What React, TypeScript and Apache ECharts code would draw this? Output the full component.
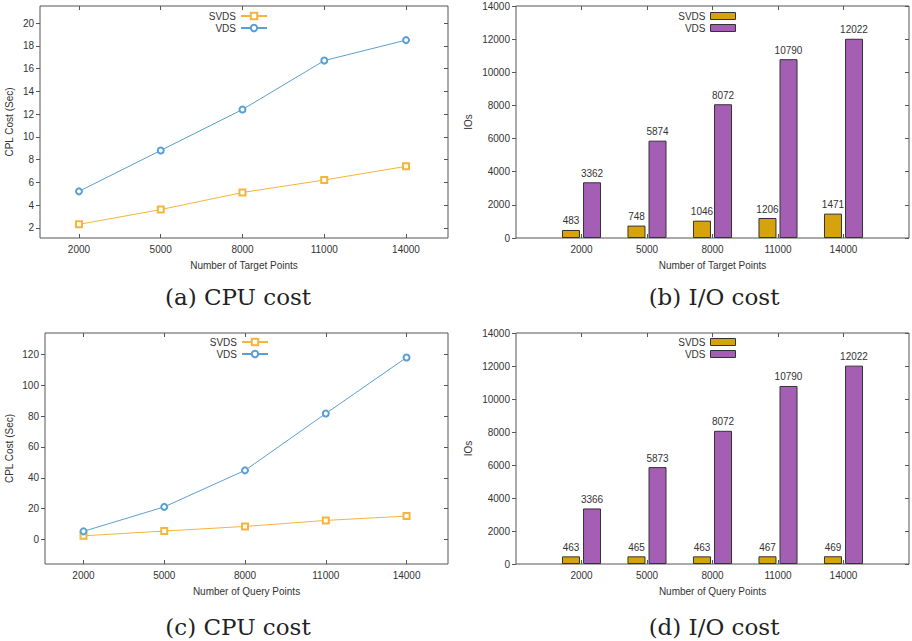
import React, { useEffect, useRef } from "react";
import * as echarts from "echarts";

// ---- data ----
const xPoints = [2000, 5000, 8000, 11000, 14000];
const categories = ["2000", "5000", "8000", "11000", "14000"];
const seriesNames = ["SVDS", "VDS"];

const cpuTargetSVDS = [2.3, 3.6, 5.1, 6.2, 7.4];
const cpuTargetVDS = [5.2, 8.8, 12.4, 16.7, 18.5];
const ioTargetSVDS = [483, 748, 1046, 1206, 1471];
const ioTargetVDS = [3362, 5874, 8072, 10790, 12022];
const cpuQuerySVDS = [2.3, 5.4, 8.4, 12.3, 15.1];
const cpuQueryVDS = [5.2, 21.1, 44.8, 81.7, 118.1];
const ioQuerySVDS = [463, 465, 463, 467, 469];
const ioQueryVDS = [3366, 5873, 8072, 10790, 12022];

const cpuTargetTicks = [2, 4, 6, 8, 10, 12, 14, 16, 18, 20];
const cpuQueryTicks = [0, 20, 40, 60, 80, 100, 120];
const ioTicks = [0, 2000, 4000, 6000, 8000, 10000, 12000, 14000];

const captions = ["(a) CPU cost", "(b) I/O cost", "(c) CPU cost", "(d) I/O cost"];
const xTitles = [
  "Number of Target Points",
  "Number of Target Points",
  "Number of Query Points",
  "Number of Query Points",
];
const yTitles = ["CPL Cost (Sec)", "IOs", "CPL Cost (Sec)", "IOs"];

// ---- styles ----
const FONT = "Liberation Sans";
const TXT = "#333333";
const AX = "#555555";
const LINE_COLORS = ["#f5b43c", "#5a9fd4"];
const BAR_COLORS = ["#d6a30c", "#a45fb4"];

const grids = [
  { left: 40, top: 6, width: 408, height: 232 },
  { left: 516, top: 6, width: 394, height: 232 },
  { left: 45, top: 333, width: 403, height: 231 },
  { left: 516, top: 333, width: 394, height: 231 },
];

const fmt = (v: number) => String(v);
const labelStyle = { color: TXT, fontSize: 10, fontFamily: FONT };

function lineXAxes(g: number, name: string) {
  const base = {
    type: "value",
    gridIndex: g,
    min: 570,
    max: 15540,
    axisLine: { show: false, onZero: false },
    splitLine: { show: false },
    axisTick: { show: true, inside: true, length: 4, lineStyle: { color: AX }, customValues: xPoints },
  };
  return [
    {
      ...base,
      position: "bottom",
      axisLabel: { ...labelStyle, customValues: xPoints, formatter: fmt, margin: 6 },
      name,
      nameLocation: "middle",
      nameGap: 22,
      nameTextStyle: { ...labelStyle },
    },
    { ...base, position: "top", axisLabel: { show: false } },
  ];
}

function barXAxes(g: number, name: string) {
  const padCats = ["", ...categories, ""];
  const base = {
    type: "category",
    gridIndex: g,
    data: padCats,
    boundaryGap: false,
    axisLine: { show: false, onZero: false },
    splitLine: { show: false },
    axisTick: {
      show: true,
      inside: true,
      length: 4,
      lineStyle: { color: AX },
      interval: (i: number) => i > 0 && i < padCats.length - 1,
    },
  };
  return [
    {
      ...base,
      position: "bottom",
      axisLabel: { ...labelStyle, interval: 0, margin: 6 },
      name,
      nameLocation: "middle",
      nameGap: 22,
      nameTextStyle: { ...labelStyle },
    },
    { ...base, position: "top", axisLabel: { show: false } },
  ];
}

function yAxes(g: number, min: number, max: number, ticks: number[], name: string, nameGap: number) {
  const base = {
    type: "value",
    gridIndex: g,
    min,
    max,
    axisLine: { show: false, onZero: false },
    splitLine: { show: false },
  };
  return [
    {
      ...base,
      position: "left",
      axisTick: { show: true, inside: false, length: 4, lineStyle: { color: AX }, customValues: ticks },
      axisLabel: { ...labelStyle, customValues: ticks, formatter: fmt, margin: 6 },
      name,
      nameLocation: "middle",
      nameRotate: 90,
      nameGap,
      nameTextStyle: { ...labelStyle },
    },
    {
      ...base,
      position: "right",
      axisTick: { show: true, inside: true, length: 4, lineStyle: { color: AX }, customValues: ticks },
      axisLabel: { show: false },
    },
  ];
}

function lineSeries(g: number, values: number[][]) {
  const symbols = ["emptyRect", "emptyCircle"];
  return values.map((vals, k) => ({
    type: "line",
    name: seriesNames[k],
    xAxisIndex: 2 * g,
    yAxisIndex: 2 * g,
    data: vals.map((v, i) => [xPoints[i], v]),
    symbol: symbols[k],
    symbolSize: 6,
    lineStyle: { color: LINE_COLORS[k], width: 1 },
    itemStyle: { color: LINE_COLORS[k], borderWidth: 1 },
  }));
}

function barSeries(g: number, values: number[][]) {
  return values.map((vals, k) => ({
    type: "bar",
    name: seriesNames[k],
    xAxisIndex: 2 * g,
    yAxisIndex: 2 * g,
    data: [null, ...vals, null],
    barWidth: 18,
    barGap: "17%",
    itemStyle: { color: BAR_COLORS[k], borderColor: "#333333", borderWidth: 1 },
    label: { show: true, position: "top", distance: 4, ...labelStyle },
  }));
}

function legends(rightEdge: number, top: number, isBar: boolean) {
  return seriesNames.map((n, k) => ({
    right: 912 - rightEdge,
    top: top + k * 12,
    orient: "vertical",
    align: "right",
    padding: 0,
    selectedMode: false,
    itemWidth: isBar ? 25 : 26,
    itemHeight: isBar ? 7 : 8,
    textStyle: { ...labelStyle },
    data: [
      isBar
        ? {
            name: n,
            icon: "rect",
            itemStyle: { color: BAR_COLORS[k], borderColor: "#333333", borderWidth: 1 },
          }
        : { name: n },
    ],
  }));
}

function buildOption() {
  const captionPos = [
    [238, 297],
    [714, 297],
    [238, 627],
    [714, 627],
  ];
  return {
    animation: false,
    backgroundColor: "#ffffff",
    grid: grids.map((g) => ({ ...g, show: true, borderColor: AX, borderWidth: 1, backgroundColor: "transparent" })),
    xAxis: [
      ...lineXAxes(0, xTitles[0]),
      ...barXAxes(1, xTitles[1]),
      ...lineXAxes(2, xTitles[2]),
      ...barXAxes(3, xTitles[3]),
    ],
    yAxis: [
      ...yAxes(0, 1.1, 21.5, cpuTargetTicks, yTitles[0], 26),
      ...yAxes(1, 0, 14000, ioTicks, yTitles[1], 43),
      ...yAxes(2, -16, 134, cpuQueryTicks, yTitles[2], 31),
      ...yAxes(3, 0, 14000, ioTicks, yTitles[3], 43),
    ],
    legend: [
      ...legends(268, 11, false),
      ...legends(736, 11, true),
      ...legends(269, 337, false),
      ...legends(736, 337, true),
    ],
    series: [
      ...lineSeries(0, [cpuTargetSVDS, cpuTargetVDS]),
      ...lineSeries(2, [cpuQuerySVDS, cpuQueryVDS]),
      ...barSeries(1, [ioTargetSVDS, ioTargetVDS]),
      ...barSeries(3, [ioQuerySVDS, ioQueryVDS]),
    ],
    graphic: captions.map((c, i) => ({
      type: "text",
      x: captionPos[i][0],
      y: captionPos[i][1],
      style: {
        text: c,
        font: '23px "DejaVu Serif"',
        fill: "#222222",
        align: "center",
        verticalAlign: "middle",
      },
    })),
  };
}

export default function App() {
  const ref = useRef<HTMLDivElement>(null);
  useEffect(() => {
    if (!ref.current) return;
    const chart = echarts.init(ref.current, null, { renderer: "svg" });
    chart.setOption(buildOption() as any);
    return () => chart.dispose();
  }, []);
  return (
    <div
      ref={ref}
      style={{ position: "fixed", left: 0, top: 0, width: 912, height: 641, background: "#fff" }}
    />
  );
}
